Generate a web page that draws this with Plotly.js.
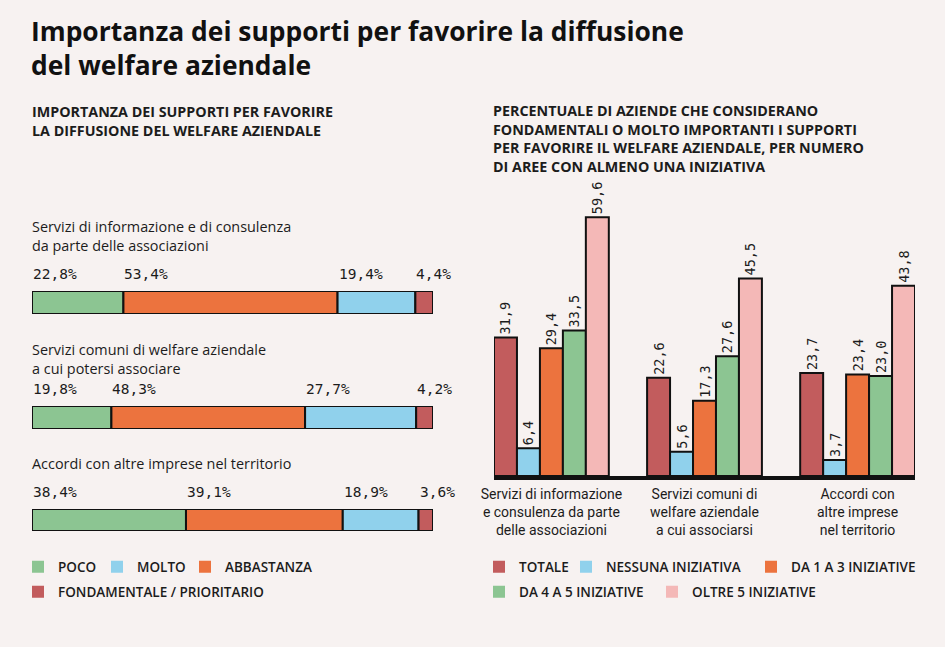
<!DOCTYPE html>
<html><head><meta charset="utf-8">
<script src="https://cdn.plot.ly/plotly-3.0.1.min.js"></script>
<style>html,body{margin:0;padding:0;background:#f7f2f1;} #chart{width:945px;height:647px;}</style>
</head><body><div id="chart"></div>
<script>
// ---------- DATA ----------
const leftCategories = [
  'Servizi di informazione e di consulenza<br>da parte delle associazioni',
  'Servizi comuni di welfare aziendale<br>a cui potersi associare',
  'Accordi con altre imprese nel territorio'
];
const levels = ['POCO', 'ABBASTANZA', 'MOLTO', 'FONDAMENTALE / PRIORITARIO'];
const poco = [22.8, 19.8, 38.4];
const abbastanza = [53.4, 48.3, 39.1];
const molto = [19.4, 27.7, 18.9];
const fondamentale = [4.4, 4.2, 3.6];

const rightCategories = [
  'Servizi di informazione<br>e consulenza da parte<br>delle associazioni',
  'Servizi comuni di<br>welfare aziendale<br>a cui associarsi',
  'Accordi con<br>altre imprese<br>nel territorio'
];
const groups = ['TOTALE', 'NESSUNA INIZIATIVA', 'DA 1 A 3 INIZIATIVE', 'DA 4 A 5 INIZIATIVE', 'OLTRE 5 INIZIATIVE'];
const totale = [31.9, 22.6, 23.7];
const nessuna = [6.4, 5.6, 3.7];
const da1a3 = [29.4, 17.3, 23.4];
const da4a5 = [33.5, 27.6, 23.0];
const oltre5 = [59.6, 45.5, 43.8];

// ---------- STYLE ----------
const W = 945, H = 647;
const px = v => v / W, py = v => 1 - v / H;
const BG = '#f7f2f1', INK = '#1c1c1c';
const GREEN = '#8cc592', ORANGE = '#ec733e', BLUE = '#90d1ec', RED = '#c25c5d', PINK = '#f4b8b7';
const SANS = 'Roboto, "Noto Sans", sans-serif';
const OPEN = '"Open Sans", Roboto, sans-serif';
const MONO = '"DejaVu Sans Mono", monospace';

const levelSeries = [poco, abbastanza, molto, fondamentale];
const levelColors = [GREEN, ORANGE, BLUE, RED];
const groupSeries = [totale, nessuna, da1a3, da4a5, oltre5];
const groupColors = [RED, BLUE, ORANGE, GREEN, PINK];

const traces = [];
const annotations = [];
const leftBarsPx = [[291, 314], [406, 429], [509, 531]];
const leftTitlePx = [236, 359, 463];

leftCategories.forEach((cat, i) => {
  const ax = i === 0 ? '' : String(i + 1);
  let cum = 0;
  levelSeries.forEach((ser, j) => {
    const v = ser[i];
    traces.push({
      type: 'bar', orientation: 'h', x: [v], y: [cat], base: [cum],
      xaxis: 'x' + ax, yaxis: 'y' + ax, offsetgroup: 'L', width: 1,
      marker: {color: levelColors[j], line: {color: '#111', width: 2}},
      showlegend: false, hoverinfo: 'skip'
    });
    annotations.push({
      xref: 'x' + ax, yref: 'y' + ax + ' domain', x: cum, y: 1,
      xanchor: 'left', yanchor: 'bottom', yshift: 7, xshift: -1,
      text: v.toFixed(1).replace('.', ',') + '%', showarrow: false,
      font: {family: MONO, size: 14.5, color: INK}
    });
    cum += v;
  });
  annotations.push({
    xref: 'paper', yref: 'paper', x: px(30), y: py(leftTitlePx[i]),
    xanchor: 'left', yanchor: 'middle', align: 'left', showarrow: false,
    text: cat, font: {family: OPEN, size: 14.4, color: INK}
  });
});

groups.forEach((g, k) => {
  traces.push({
    type: 'bar', x: rightCategories, y: groupSeries[k], name: g,
    xaxis: 'x4', yaxis: 'y4', offsetgroup: 'G' + k,
    marker: {color: groupColors[k], line: {color: '#111', width: 2}},
    texttemplate: '%{y:.1f}', textposition: 'outside', textangle: -90,
    constraintext: 'none', cliponaxis: false,
    textfont: {family: MONO, size: 13.5, color: INK},
    showlegend: false, hoverinfo: 'skip'
  });
});

// legend-only entries
const leftLegendOrder = [[0, 'legend', 34], [2, 'legend', 43], [1, 'legend', 0], [3, 'legend2', 0]];
leftLegendOrder.forEach(([j, lg, w]) => {
  traces.push({type: 'bar', orientation: 'h', x: [null], y: [null], name: levels[j],
    xaxis: 'x', yaxis: 'y', offsetgroup: 'L', legend: lg, legendwidth: w || undefined,
    marker: {color: levelColors[j], line: {width: 0}}, hoverinfo: 'skip'});
});
const rightLegendOrder = [[0, 'legend3', 42], [1, 'legend3', 140], [2, 'legend3', 0], [3, 'legend4', 128], [4, 'legend4', 0]];
rightLegendOrder.forEach(([k, lg, w]) => {
  traces.push({type: 'bar', orientation: 'h', x: [null], y: [null], name: groups[k],
    xaxis: 'x', yaxis: 'y', offsetgroup: 'L', legend: lg, legendwidth: w || undefined,
    marker: {color: groupColors[k], line: {width: 0}}, hoverinfo: 'skip'});
});

annotations.push({
  xref: 'paper', yref: 'paper', x: px(30), y: py(120.5), xanchor: 'left', yanchor: 'middle',
  align: 'left', showarrow: false,
  text: 'IMPORTANZA DEI SUPPORTI PER FAVORIRE<br>LA DIFFUSIONE DEL WELFARE AZIENDALE',
  font: {family: OPEN, size: 14.3, weight: 700, color: INK}
});
annotations.push({
  xref: 'paper', yref: 'paper', x: px(491), y: py(138.5), xanchor: 'left', yanchor: 'middle',
  align: 'left', showarrow: false,
  text: 'PERCENTUALE DI AZIENDE CHE CONSIDERANO<br>FONDAMENTALI O MOLTO IMPORTANTI I SUPPORTI<br>PER FAVORIRE IL WELFARE AZIENDALE, PER NUMERO<br>DI AREE CON ALMENO UNA INIZIATIVA',
  font: {family: OPEN, size: 14.3, weight: 700, color: INK}
});

const hiddenX = {range: [0, 100], domain: [px(32), px(433)], visible: false, fixedrange: true};
const hiddenY = d => ({type: 'category', range: [-0.5, 0.5], domain: d, visible: false, fixedrange: true});
const legendBase = (x, y) => ({
  x: px(x), y: py(y), xanchor: 'left', yanchor: 'middle', orientation: 'h',
  bgcolor: 'rgba(0,0,0,0)', traceorder: 'normal', itemclick: false, itemdoubleclick: false,
  font: {family: OPEN, size: 13.5, weight: 600, color: INK}
});

const layout = {
  width: W, height: H, margin: {l: 0, r: 0, t: 0, b: 0},
  paper_bgcolor: BG, plot_bgcolor: BG, separators: ',.',
  barmode: 'group', bargap: 0.25, bargroupgap: 0,
  title: {
    text: 'Importanza dei supporti per favorire la diffusione<br>del welfare aziendale',
    x: px(31), xanchor: 'left', xref: 'paper', y: py(41), yanchor: 'middle', yref: 'container',
    font: {family: OPEN, size: 26.4, weight: 700, color: '#111'}
  },
  xaxis: hiddenX, xaxis2: Object.assign({}, hiddenX, {anchor: 'y2'}), xaxis3: Object.assign({}, hiddenX, {anchor: 'y3'}),
  yaxis: hiddenY([py(leftBarsPx[0][1]), py(leftBarsPx[0][0])]),
  yaxis2: Object.assign(hiddenY([py(leftBarsPx[1][1]), py(leftBarsPx[1][0])]), {anchor: 'x2'}),
  yaxis3: Object.assign(hiddenY([py(leftBarsPx[2][1]), py(leftBarsPx[2][0])]), {anchor: 'x3'}),
  xaxis4: {
    type: 'category', domain: [px(494), px(915)], range: [-0.375, 2.375], anchor: 'y4',
    showline: true, linewidth: 4, linecolor: '#111', ticks: '', showgrid: false, fixedrange: true,
    ticklabelstandoff: 2,
    tickfont: {family: SANS, size: 14, color: INK}
  },
  yaxis4: {range: [0, 70], domain: [py(476), py(172)], anchor: 'x4', visible: false, fixedrange: true},
  legend: legendBase(18, 567),
  legend2: legendBase(18, 592),
  legend3: legendBase(479, 567),
  legend4: legendBase(479, 592),
  annotations: annotations
};

Plotly.newPlot('chart', traces, layout, {displayModeBar: false, staticPlot: true});
</script></body></html>
